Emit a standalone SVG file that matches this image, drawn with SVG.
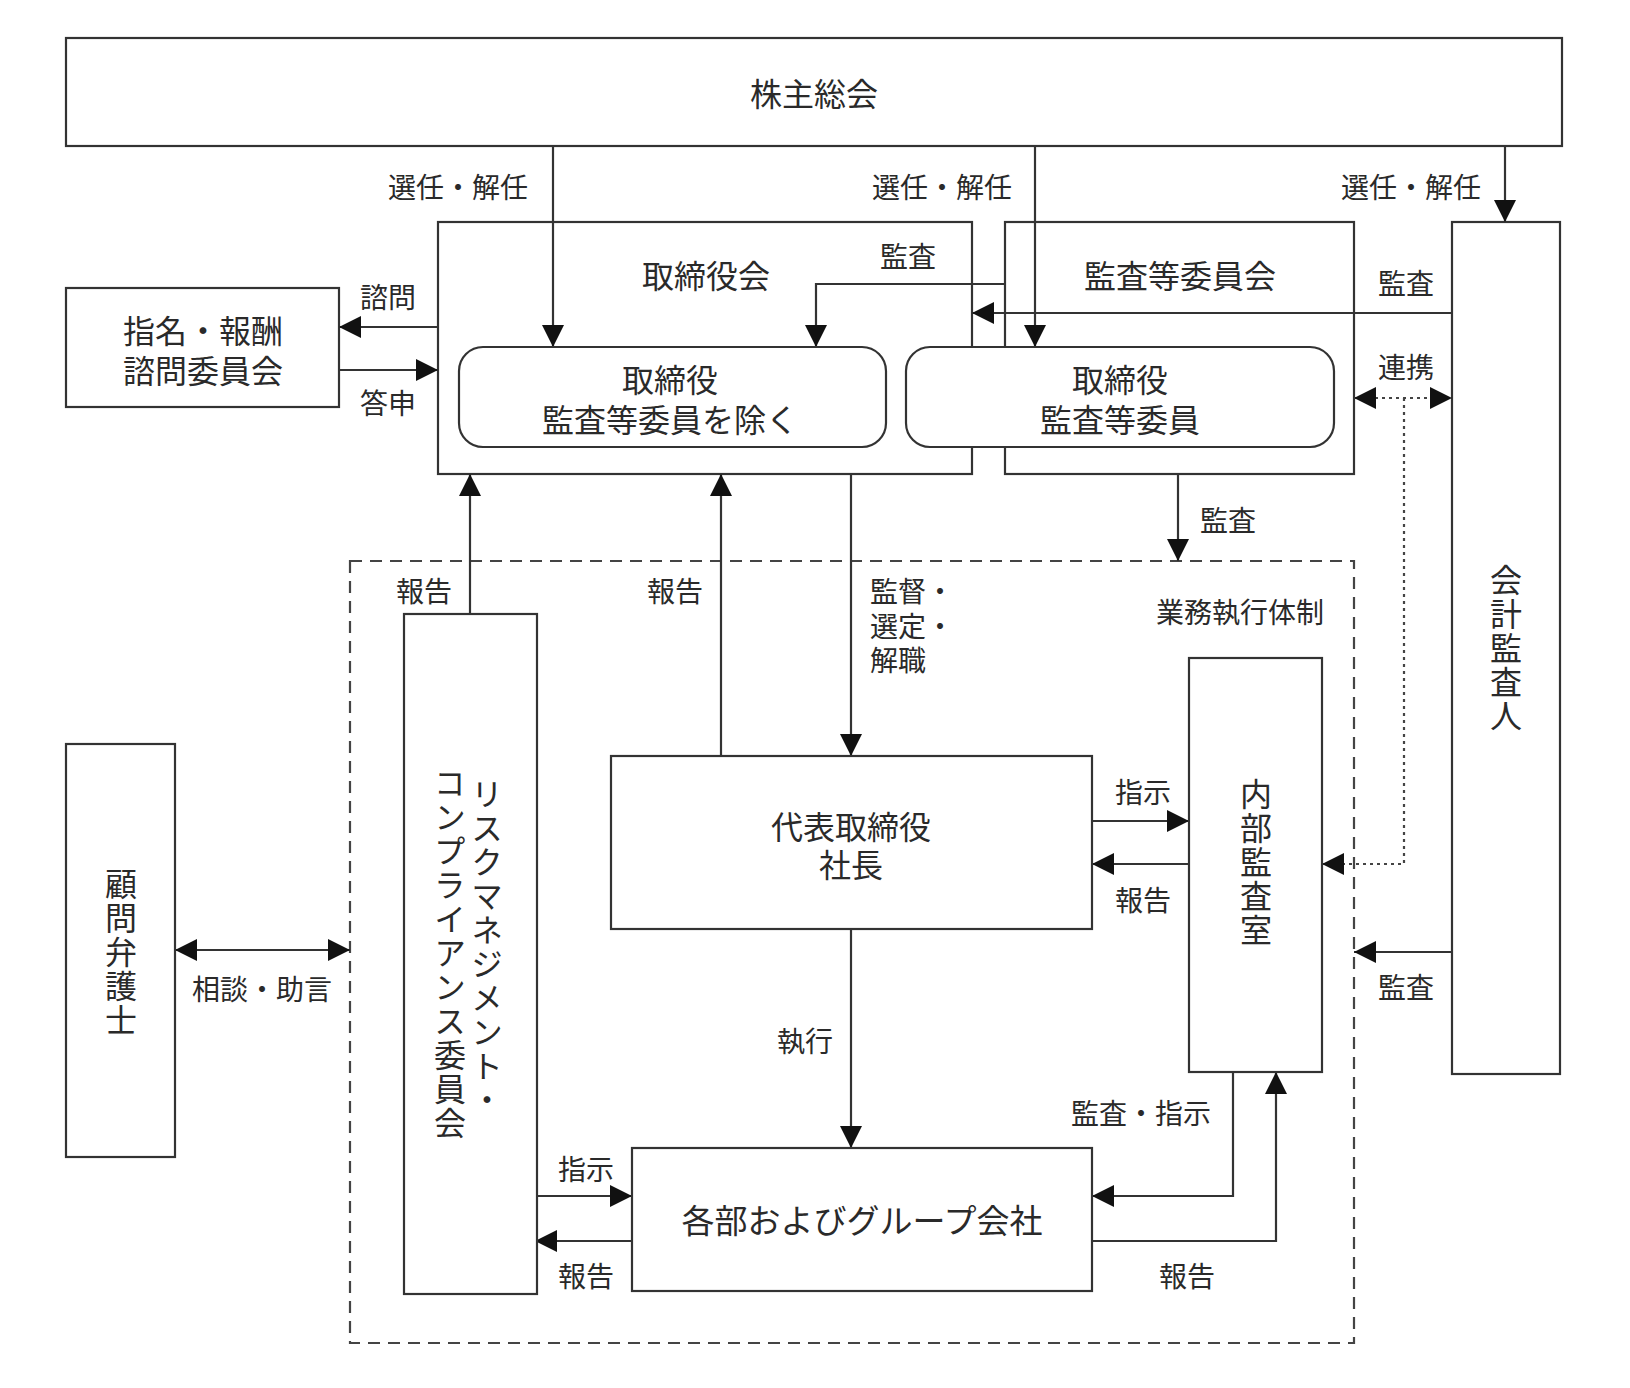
<svg xmlns="http://www.w3.org/2000/svg" width="1630" height="1388" viewBox="0 0 1630 1388">
<defs>
<style>
.box{fill:#fff;stroke:#333;stroke-width:2.2}
.ln{fill:none;stroke:#333;stroke-width:2.2}
.dash{fill:none;stroke:#444;stroke-width:2.2;stroke-dasharray:12 8}
.dot{fill:none;stroke:#444;stroke-width:2.2;stroke-dasharray:3 4}
.t{font-family:"Noto Sans CJK JP","Noto Sans CJK SC",sans-serif;fill:#2a2a2a;text-anchor:middle;dominant-baseline:central}
.n{font-size:32px}
.e{font-size:28px}
.v{font-family:"Noto Sans CJK JP","Noto Sans CJK SC",sans-serif;fill:#2a2a2a;font-size:32px;letter-spacing:2px;writing-mode:vertical-rl;text-anchor:start}
</style>
<marker id="ah" markerUnits="userSpaceOnUse" markerWidth="22" markerHeight="22" refX="22" refY="11" orient="auto-start-reverse" viewBox="0 0 22 22">
<path d="M0,0 L22,11 L0,22 z" fill="#111"/>
</marker>
</defs>

<rect width="1630" height="1388" fill="#fff"/>

<g id="exec-frame">
<rect class="dash" x="350" y="561" width="1004" height="782"/>
<text class="t e" x="1240" y="611">業務執行体制</text>
</g>

<g id="shareholders">
<rect class="box" x="66" y="38" width="1496" height="108"/>
<text class="t n" x="814" y="92">株主総会</text>
</g>

<g id="board">
<rect class="box" x="438" y="222" width="534" height="252"/>
<text class="t n" x="706" y="274">取締役会</text>
</g>

<g id="audit-committee">
<rect class="box" x="1005" y="222" width="349" height="252"/>
<text class="t n" x="1180" y="274">監査等委員会</text>
</g>

<g id="accounting-auditor">
<rect class="box" x="1452" y="222" width="108" height="852"/>
<text class="v" x="1506" y="564">会計監査人</text>
</g>

<g id="nomination">
<rect class="box" x="66" y="288" width="273" height="119"/>
<text class="t n" x="203" y="329">指名・報酬</text>
<text class="t n" x="203" y="369">諮問委員会</text>
</g>

<g id="connectors">
<line class="ln" x1="553" y1="146" x2="553" y2="347" marker-end="url(#ah)"/>
<line class="ln" x1="1035" y1="146" x2="1035" y2="347" marker-end="url(#ah)"/>
<line class="ln" x1="1505" y1="146" x2="1505" y2="222" marker-end="url(#ah)"/>
<polyline class="ln" points="1005,284 816,284 816,347" marker-end="url(#ah)"/>
<line class="ln" x1="1452" y1="313" x2="972" y2="313" marker-end="url(#ah)"/>
<line class="ln" x1="438" y1="327" x2="339" y2="327" marker-end="url(#ah)"/>
<line class="ln" x1="339" y1="370" x2="438" y2="370" marker-end="url(#ah)"/>
<line class="dot" x1="1354" y1="398" x2="1452" y2="398" marker-start="url(#ah)" marker-end="url(#ah)"/>
<polyline class="dot" points="1404,398 1404,864 1322,864" marker-end="url(#ah)"/>
<line class="ln" x1="1178" y1="474" x2="1178" y2="561" marker-end="url(#ah)"/>
<line class="ln" x1="470" y1="614" x2="470" y2="474" marker-end="url(#ah)"/>
<line class="ln" x1="721" y1="756" x2="721" y2="474" marker-end="url(#ah)"/>
<line class="ln" x1="851" y1="474" x2="851" y2="756" marker-end="url(#ah)"/>
<line class="ln" x1="1092" y1="821" x2="1189" y2="821" marker-end="url(#ah)"/>
<line class="ln" x1="1189" y1="864" x2="1092" y2="864" marker-end="url(#ah)"/>
<line class="ln" x1="1452" y1="952" x2="1354" y2="952" marker-end="url(#ah)"/>
<line class="ln" x1="851" y1="929" x2="851" y2="1148" marker-end="url(#ah)"/>
<line class="ln" x1="535" y1="1196" x2="632" y2="1196" marker-end="url(#ah)"/>
<line class="ln" x1="632" y1="1241" x2="535" y2="1241" marker-end="url(#ah)"/>
<polyline class="ln" points="1233,1072 1233,1196 1092,1196" marker-end="url(#ah)"/>
<polyline class="ln" points="1092,1241 1276,1241 1276,1072" marker-end="url(#ah)"/>
<line class="ln" x1="175" y1="950" x2="350" y2="950" marker-start="url(#ah)" marker-end="url(#ah)"/>

<text class="t e" x="458" y="186">選任・解任</text>
<text class="t e" x="942" y="186">選任・解任</text>
<text class="t e" x="1411" y="186">選任・解任</text>
<text class="t e" x="908" y="255">監査</text>
<text class="t e" x="1406" y="282">監査</text>
<text class="t e" x="388" y="296">諮問</text>
<text class="t e" x="388" y="402">答申</text>
<text class="t e" x="1406" y="366">連携</text>
<text class="t e" x="1228" y="519">監査</text>
<text class="t e" x="424" y="590">報告</text>
<text class="t e" x="675" y="590">報告</text>
<text class="t e" x="870" y="590" style="text-anchor:start">監督・</text>
<text class="t e" x="870" y="625" style="text-anchor:start">選定・</text>
<text class="t e" x="870" y="659" style="text-anchor:start">解職</text>
<text class="t e" x="1143" y="791">指示</text>
<text class="t e" x="1143" y="899">報告</text>
<text class="t e" x="1406" y="986">監査</text>
<text class="t e" x="805" y="1040">執行</text>
<text class="t e" x="1141" y="1112">監査・指示</text>
<text class="t e" x="586" y="1168">指示</text>
<text class="t e" x="586" y="1275">報告</text>
<text class="t e" x="1187" y="1275">報告</text>
<text class="t e" x="262" y="988">相談・助言</text>
</g>

<g id="director">
<rect class="box" x="459" y="347" width="427" height="100" rx="24" ry="24"/>
<text class="t n" x="670" y="378">取締役</text>
<text class="t n" x="670" y="418">監査等委員を除く</text>
</g>

<g id="audit-director">
<rect class="box" x="906" y="347" width="428" height="100" rx="24" ry="24"/>
<text class="t n" x="1120" y="378">取締役</text>
<text class="t n" x="1120" y="418">監査等委員</text>
</g>

<g id="risk-committee">
<rect class="box" x="404" y="614" width="133" height="680"/>
<text class="v" x="487" y="778">リスクマネジメント・</text>
<text class="v" x="450" y="767">コンプライアンス委員会</text>
</g>

<g id="president">
<rect class="box" x="611" y="756" width="481" height="173"/>
<text class="t n" x="851" y="825">代表取締役</text>
<text class="t n" x="851" y="863">社長</text>
</g>

<g id="internal-audit">
<rect class="box" x="1189" y="658" width="133" height="414"/>
<text class="v" x="1256" y="778">内部監査室</text>
</g>

<g id="departments">
<rect class="box" x="632" y="1148" width="460" height="143"/>
<text class="t n" x="862" y="1219" style="font-size:33px">各部およびグループ会社</text>
</g>

<g id="lawyer">
<rect class="box" x="66" y="744" width="109" height="413"/>
<text class="v" x="121" y="868">顧問弁護士</text>
</g>
</svg>
